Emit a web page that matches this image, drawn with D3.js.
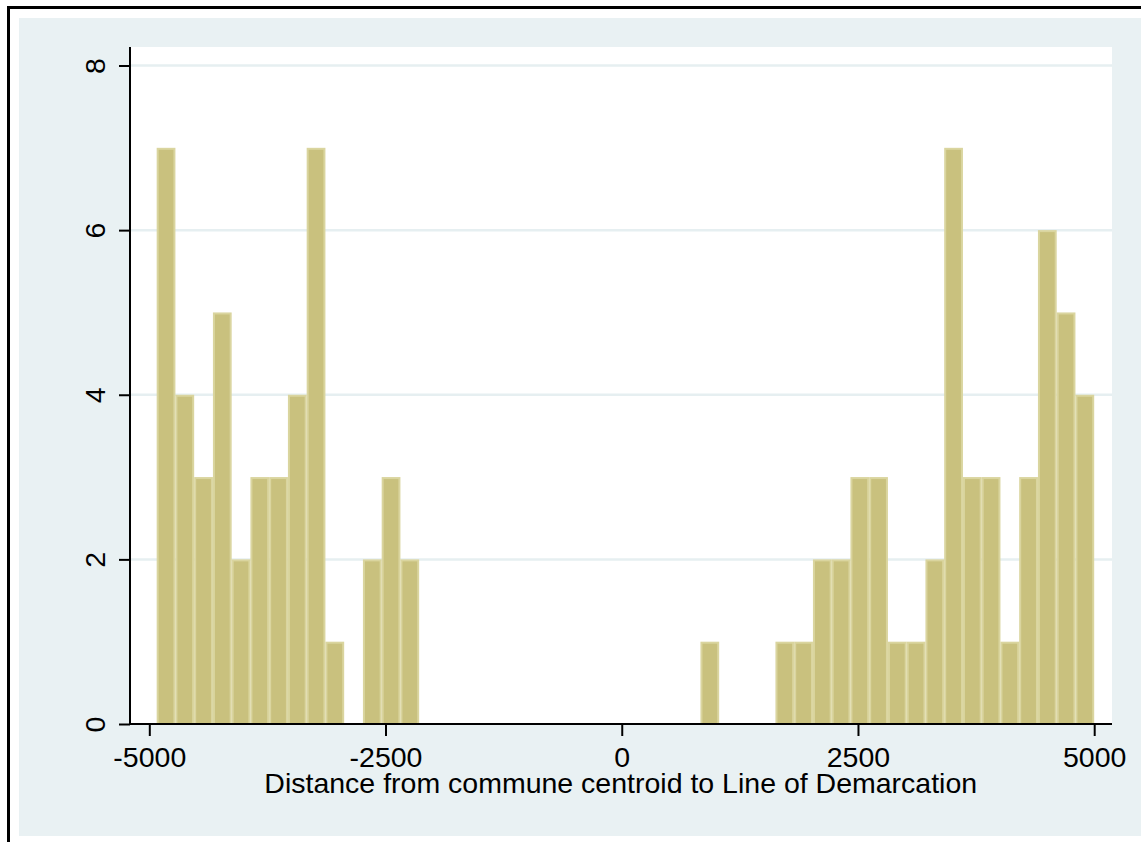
<!DOCTYPE html>
<html>
<head>
<meta charset="utf-8">
<script src="https://cdn.jsdelivr.net/npm/d3@7"></script>
<style>
  html, body { margin: 0; padding: 0; background: #ffffff; }
  svg { display: block; }
  text { font-family: "Liberation Sans", Arial, Helvetica, sans-serif; fill: #000; }
</style>
</head>
<body>
<script>
// ---- data ----
const xMin = -4922;            // left edge of first bin
const xMax = 5000;             // right edge of last bin
const counts = [
  7, 4, 3, 5, 2, 3, 3, 4, 7, 1,
  0, 2, 3, 2, 0, 0, 0, 0, 0, 0,
  0, 0, 0, 0, 0, 0, 0, 0, 0, 1,
  0, 0, 0, 1, 1, 2, 2, 3, 3, 1,
  1, 2, 7, 3, 3, 1, 3, 6, 5, 4
];
const xTicks = [-5000, -2500, 0, 2500, 5000];
const yTicks = [0, 2, 4, 6, 8];
const xTitle = "Distance from commune centroid to Line of Demarcation";

// ---- layout ----
const W = 1141, H = 842;
const FS = 28.5;
const plot = { left: 130, right: 1112, top: 47, bottom: 724 };

const svg = d3.select("body").append("svg").attr("width", W).attr("height", H);

// outer frame (top and left visible)
svg.append("rect").attr("x", 0).attr("y", 0).attr("width", W).attr("height", H).attr("fill", "#ffffff");
svg.append("rect").attr("x", 19).attr("y", 18).attr("width", W - 19).attr("height", 836 - 18).attr("fill", "#e9f1f3");
svg.append("line").attr("x1", 7).attr("x2", W).attr("y1", 7.5).attr("y2", 7.5).attr("stroke", "#000").attr("stroke-width", 3);
svg.append("line").attr("x1", 8.5).attr("x2", 8.5).attr("y1", 6).attr("y2", H).attr("stroke", "#000").attr("stroke-width", 3);

// plot region
svg.append("rect").attr("x", plot.left).attr("y", plot.top)
  .attr("width", plot.right - plot.left).attr("height", plot.bottom - plot.top).attr("fill", "#ffffff");

const x = d3.scaleLinear().domain([-5000, 5000]).range([149.3, 1094.2]);
const y = d3.scaleLinear().domain([0, 8]).range([plot.bottom, 65.5]);

// gridlines
svg.append("g").selectAll("line").data(yTicks.filter(d => d > 0)).join("line")
  .attr("x1", plot.left).attr("x2", plot.right)
  .attr("y1", d => y(d)).attr("y2", d => y(d))
  .attr("stroke", "#e6eff1").attr("stroke-width", 2.5);

// bins
const binW = (xMax - xMin) / counts.length;
const bins = counts.map((c, i) => ({ x0: xMin + i * binW, x1: xMin + (i + 1) * binW, n: c })).filter(d => d.n > 0);

svg.append("g").selectAll("rect").data(bins).join("rect")
  .attr("x", d => x(d.x0) + 1)
  .attr("y", d => y(d.n) + 1)
  .attr("width", d => x(d.x1) - x(d.x0) - 2)
  .attr("height", d => y(0) - y(d.n) - 1)
  .attr("fill", "#c9c17e")
  .attr("stroke", "#dad59f")
  .attr("stroke-width", 2);

// axes
const fmt = d => String(d);
const xAxis = d3.axisBottom(x).tickValues(xTicks).tickSize(12).tickPadding(11).tickFormat(fmt);
const gx = svg.append("g").attr("transform", `translate(0,${plot.bottom})`).call(xAxis);
gx.select(".domain").remove();
gx.selectAll(".tick line").attr("stroke", "#000").attr("stroke-width", 2);
gx.selectAll(".tick text").attr("font-size", FS).attr("font-family", "Liberation Sans, Arial, sans-serif").attr("fill", "#000").attr("dy", "0.71em");
svg.append("line").attr("x1", plot.left).attr("x2", plot.right).attr("y1", plot.bottom).attr("y2", plot.bottom)
  .attr("stroke", "#000").attr("stroke-width", 2);

const yAxis = d3.axisLeft(y).tickValues(yTicks).tickSize(11).tickPadding(0).tickFormat(fmt);
const gy = svg.append("g").attr("transform", `translate(${plot.left},0)`).call(yAxis);
gy.select(".domain").remove();
gy.selectAll(".tick line").attr("stroke", "#000").attr("stroke-width", 2);
gy.selectAll(".tick text")
  .attr("font-size", FS).attr("font-family", "Liberation Sans, Arial, sans-serif").attr("fill", "#000")
  .attr("x", null).attr("dy", null)
  .attr("text-anchor", "middle")
  .attr("transform", "translate(-25,0) rotate(-90)");
svg.append("line").attr("x1", plot.left).attr("x2", plot.left).attr("y1", plot.top).attr("y2", plot.bottom + 1)
  .attr("stroke", "#000").attr("stroke-width", 2);

// x title
svg.append("text").attr("x", (x(-5000) + x(5000)) / 2 - 1).attr("y", 793)
  .attr("text-anchor", "middle").attr("font-size", FS).text(xTitle);
</script>
</body>
</html>
